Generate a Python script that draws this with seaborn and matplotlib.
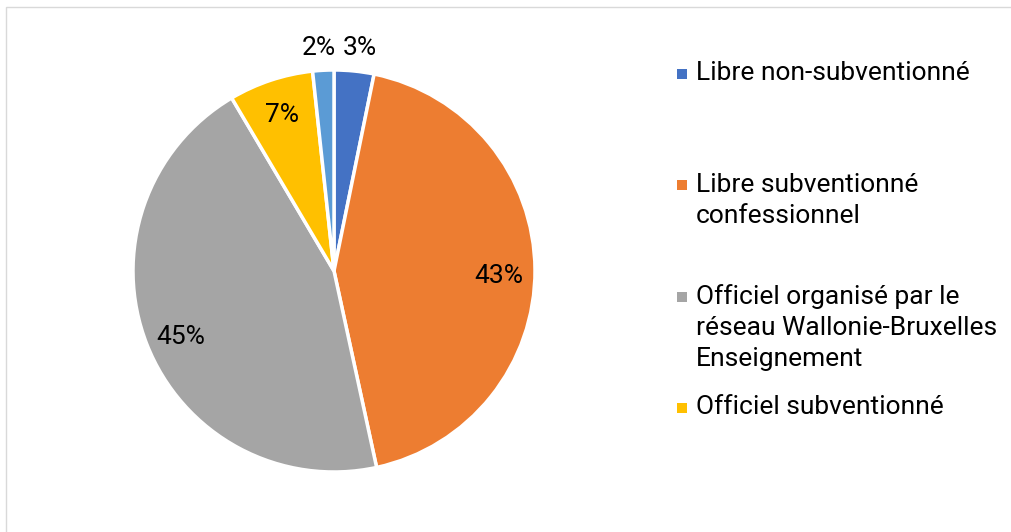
import matplotlib
matplotlib.use("Agg")
import matplotlib.pyplot as plt
import seaborn as sns
import numpy as np
from matplotlib.patches import Rectangle

sns.set_theme(style="white")
plt.rcParams['font.family'] = ['Roboto', 'DejaVu Sans']

categories = ["Libre non-subventionné",
              "Libre subventionné\nconfessionnel",
              "Officiel organisé par le\nréseau Wallonie-Bruxelles\nEnseignement",
              "Officiel subventionné",
              "Autre"]
values = [3.2, 43.4, 44.9, 6.8, 1.7]
legend_shown = 4
colors = ["#4472C4", "#ED7D31", "#A5A5A5", "#FFC000", "#5B9BD5"]

W, H = 1012, 532
fig = plt.figure(figsize=(W / 100, H / 100), dpi=100)
fig.patch.set_facecolor("white")

cx, cy, R = 334, 271, 201
k = 1.25
side = 2 * k * R
ax = fig.add_axes([(cx - side / 2) / W, (H - cy - side / 2) / H, side / W, side / H])
ax.set_xlim(-k, k)
ax.set_ylim(-k, k)
ax.axis("off")

FS = 19
wedges, texts, autotexts = ax.pie(
    values, colors=colors, startangle=90, counterclock=False,
    autopct='%.0f%%', pctdistance=0.82,
    wedgeprops=dict(edgecolor="white", linewidth=2.5),
    textprops=dict(fontsize=FS, color="black"))

# nudge inside labels slightly down (Excel baseline placement)
for i in (1, 2):
    x, y = autotexts[i].get_position()
    autotexts[i].set_position((x, y - 0.03))

# small slices: labels placed just outside the pie, side by side
autotexts[0].set_position((0.13, 1.11))
autotexts[4].set_position((-0.075, 1.11))

# legend drawn manually (Excel-style fixed slots)
slot_y = [74, 185, 297, 408]
for i in range(legend_shown):
    y = slot_y[i]
    fig.patches.append(Rectangle((677 / W, (H - y - 5) / H), 10 / W, 10 / H,
                                 transform=fig.transFigure, facecolor=colors[i],
                                 edgecolor="none"))
    fig.text(696 / W, (H - y + 12.5) / H, categories[i], fontsize=FS,
             color="black", ha="left", va="top", linespacing=1.37)

# outer border
fig.patches.append(Rectangle((6 / W, -0.1), 1.1, (H - 7) / H + 0.1,
                             transform=fig.transFigure, facecolor="none",
                             edgecolor="#D9D9D9", linewidth=1, clip_on=False))

fig.savefig("out.png", dpi=100)
